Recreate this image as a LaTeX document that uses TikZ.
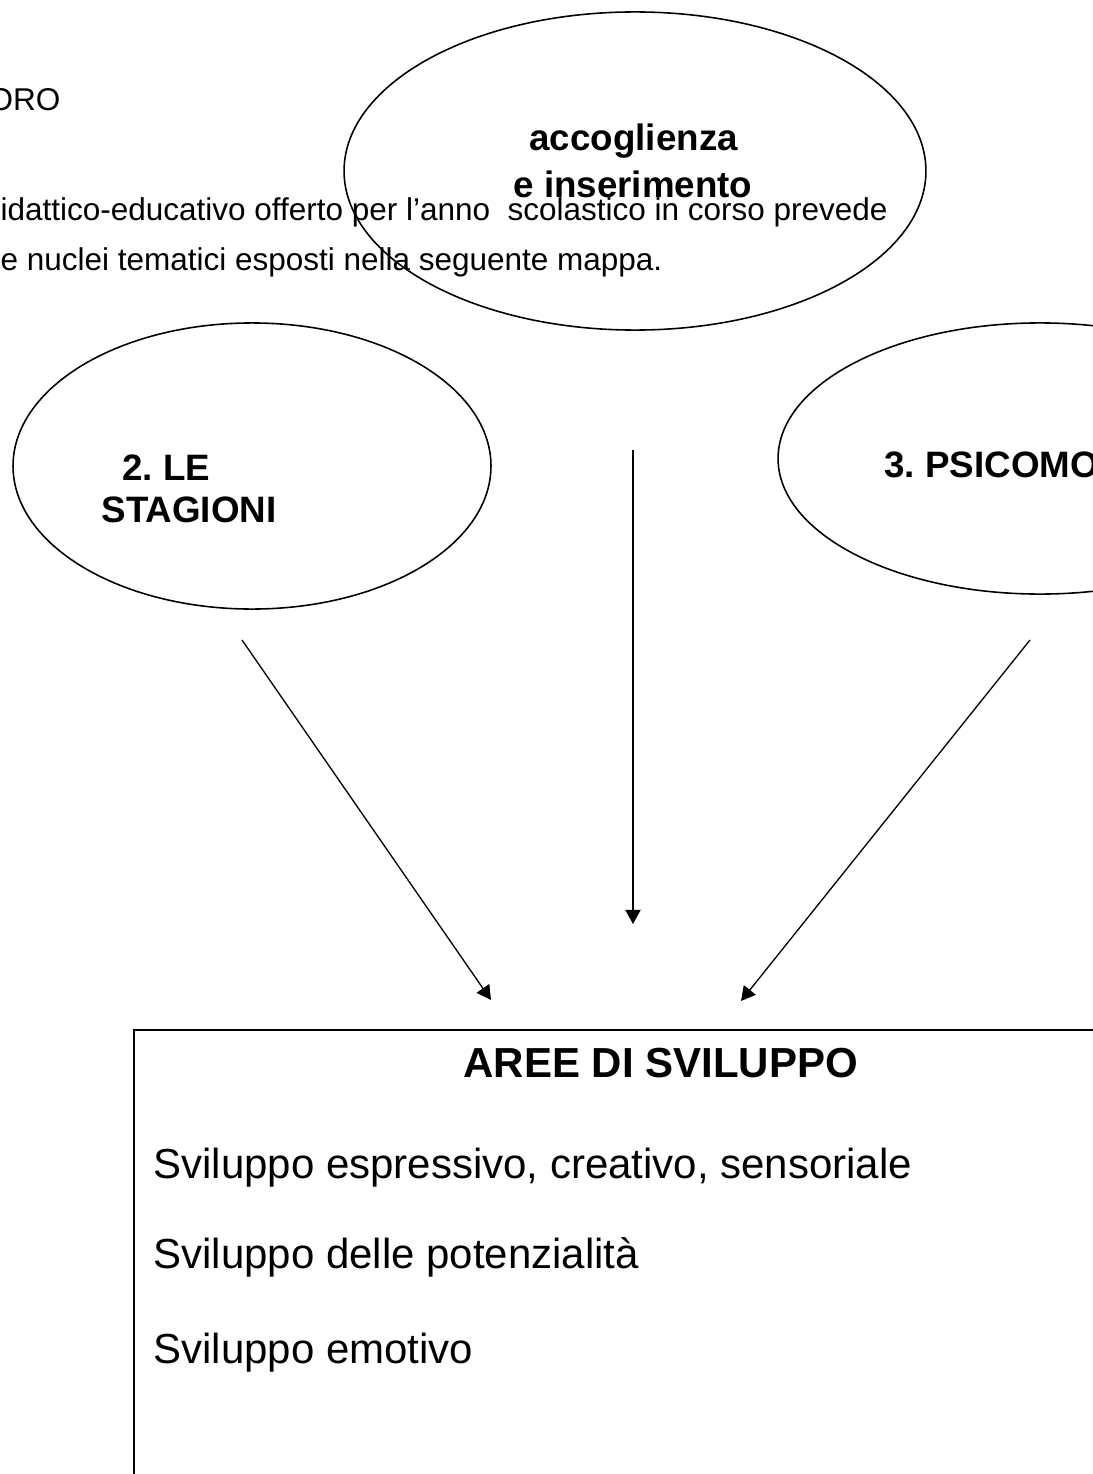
\documentclass[tikz,border=0pt]{standalone}
\usepackage{fontspec}
\setmainfont{Liberation Sans}
\usetikzlibrary{shapes.geometric,arrows.meta}
\frenchspacing
\tikzset{
	bubble/.style={draw, ellipse, line width=0.6pt, inner sep=0pt},
	areabox/.style={draw, rectangle, line width=0.75pt, inner sep=0pt, anchor=north west},
	bodytext/.style={anchor=base west, inner sep=0pt, font=\fontsize{12}{14}\selectfont},
	bubbletext/.style={anchor=base west, inner sep=0pt, font=\fontsize{14}{16}\selectfont\bfseries},
	areatext/.style={anchor=base west, inner sep=0pt, font=\fontsize{16}{19}\selectfont},
	link/.style={line width=0.5pt, -{Triangle[length=5.4pt, width=5.8pt]}}
}

\begin{document}
\begin{tikzpicture}[x=0.381pt, y=-0.381pt]
		%%%%% START %%%%%
		\useasboundingbox (0, 0) rectangle (1093, 1474);
		\clip (0, 0) rectangle (1093, 1474);
		
		\node[bubble, minimum width=221.7pt, minimum height=121.2pt] (accoglienza) at (635, 171) {};
		\node[bubble, minimum width=182.1pt, minimum height=109.0pt] (stagioni) at (252, 466) {};
		\node[bubble, minimum width=199.6pt, minimum height=103.3pt] (psicomo) at (1040, 458.5) {};
		\node[areabox, minimum width=406.5pt, minimum height=228.6pt] (aree) at (133, 1029) {};
		
		\node[bodytext] (oro) at (-12, 110) {ORO};
		\node[bodytext] (riga1) at (0, 220) {idattico-educativo offerto per l’anno \ scolastico in corso prevede};
		\node[bodytext] (riga2) at (0, 270) {e nuclei tematici esposti nella seguente mappa.};
		
		\node[bubbletext] (accog1) at (529, 150) {accoglienza};
		\node[bubbletext] (accog2) at (513, 197) {e inserimento};
		\node[bubbletext] (stag1) at (122, 480) {2. LE};
		\node[bubbletext] (stag2) at (101, 522) {STAGIONI};
		\node[bubbletext] (psico1) at (884, 477) {3. PSICOMO};
		
		\node[areatext, font=\fontsize{16}{19}\selectfont\bfseries] (titolo) at (463, 1077) {AREE DI SVILUPPO};
		\node[areatext] (area1) at (153, 1178) {Sviluppo espressivo, creativo, sensoriale};
		\node[areatext] (area2) at (153, 1268) {Sviluppo delle potenzialità};
		\node[areatext] (area3) at (153, 1363) {Sviluppo emotivo};
		
		\coordinate (stagioni-out) at (242, 640);
		\coordinate (accoglienza-out) at (633, 450);
		\coordinate (psicomo-out) at (1030, 640);
		\coordinate (aree-left) at (491, 1000);
		\coordinate (aree-mid) at (633, 924);
		\coordinate (aree-right) at (741, 1001);
		
		\draw[link] (stagioni-out) -- (aree-left);
		\draw[link] (accoglienza-out) -- (aree-mid);
		\draw[link] (psicomo-out) -- (aree-right);
		%%%%% END %%%%%
\end{tikzpicture}
\end{document}
